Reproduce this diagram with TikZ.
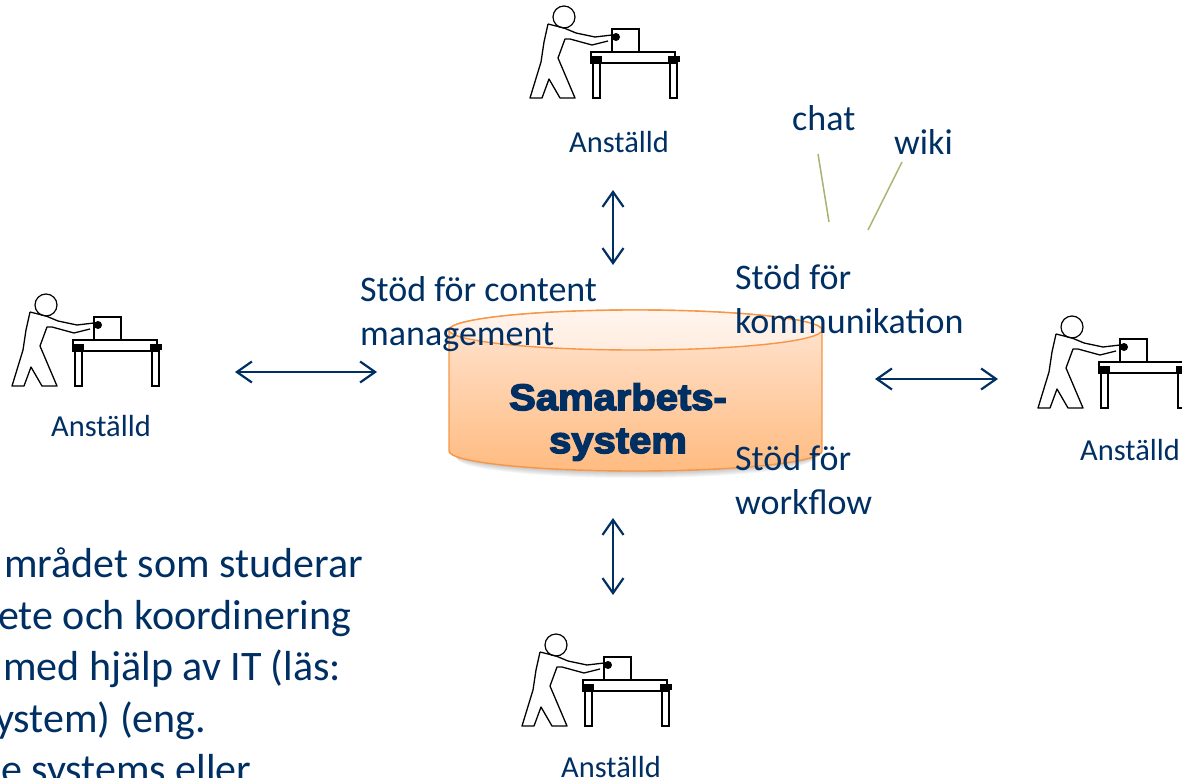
\documentclass[tikz,border=0pt]{standalone}
\usepackage{fontspec}
\setmainfont{Carlito}
\newfontfamily\heavyfont[FakeBold=4,FakeStretch=1.08]{Liberation Sans Bold}
\usetikzlibrary{arrows.meta}
\definecolor{navytext}{HTML}{002F63}
\definecolor{cylline}{HTML}{F79646}
\definecolor{cyltop}{HTML}{FFE6D5}
\definecolor{cylbot}{HTML}{FFBB80}
\definecolor{stemline}{HTML}{A9B26F}
\tikzset{
  lbl/.style={text=navytext,font=\fontsize{36}{36}\selectfont,anchor=base west,inner sep=0pt},
  lbltwo/.style={lbl,align=left,font=\fontsize{36}{44}\selectfont},
  bigtxt/.style={lbl,font=\fontsize{42}{42}\selectfont},
  emp/.style={text=navytext,font=\fontsize{30.5}{31}\selectfont,anchor=base,inner sep=0pt},
  dblarrow/.style={navytext,line width=2.2pt,{Straight Barb[length=15pt,width=21pt]}-{Straight Barb[length=15pt,width=21pt]}},
  stem/.style={stemline,line width=1.5pt},
  worker/.pic={
    \draw[line width=1.2pt] (44,17) circle (11);
    \draw[line width=1.3pt,line join=round]
      (28,24) -- (24,42) -- (21,62) -- (10,98) -- (22,98) -- (29,79) -- (40,98) -- (55,98)
      -- (38,58) -- (45,39) -- (50,39) -- (72,45) -- (88,41);
    \draw[line width=1.3pt,line join=round] (28,24) -- (44,28) -- (56,33) -- (75,37) -- (92,35);
    \fill (96,37) circle (4);
    \draw[line width=1.1pt] (92,52) -- (92,29) -- (119,29) -- (119,52);
    \draw[line width=1.1pt] (71,52) rectangle (155,63);
    \draw[line width=1.1pt] (73,60) rectangle (80,98);
    \draw[line width=1.1pt] (150,60) rectangle (157,98);
    \fill (71,56) rectangle (82,62);
    \fill (148,56) rectangle (160,62);
  }
}
\begin{document}
\begin{tikzpicture}[x=1pt,y=-1pt]
\useasboundingbox (0,0) rectangle (1182,778);

% the four employees
\pic at (520,0) {worker};
\pic at (2,288) {worker};
\pic at (1028,310) {worker};
\pic at (512,628) {worker};
\node[emp] (empTop) at (619,153) {Anställd};
\node[emp] (empLeft) at (101,436) {Anställd};
\node[emp] (empRight) at (1130,460) {Anställd};
\node[emp] (empBottom) at (611,777) {Anställd};

% shadow and cylinder
\foreach \i in {1,...,9}
  \fill[black,opacity=0.035] (635.5,449+\i) ellipse (186-\i*0.8 and 20);
\path[draw=cylline,line width=1.4pt,top color=cyltop,bottom color=cylbot]
  (449,330) -- (449,451) arc[x radius=186.5,y radius=20,start angle=180,end angle=0] -- (822,330)
  arc[x radius=186.5,y radius=20,start angle=0,end angle=-180] -- cycle;
\path[draw=cylline,line width=1.4pt,top color=cyltop!40!white,bottom color=cyltop!75!white]
  (635.5,330) ellipse (186.5 and 20);
\node[text=navytext,font=\fontsize{37}{43}\selectfont\heavyfont,align=center,inner sep=0pt] (system) at (618,422) {Samarbets-\\system};

% labels around the cylinder
\node[lbltwo] (content) at (360,345) {Stöd för content\\management};
\node[lbltwo] (komm) at (735,333) {Stöd för\\kommunikation};
\node[lbltwo] (workflow) at (735,514) {Stöd för\\workflow};
\node[lbl] (chat) at (792,131) {chat};
\node[lbl] (wiki) at (894,155) {wiki};

% arrows
\coordinate (arrLeftA) at (235,372);
\coordinate (arrLeftB) at (377,372);
\coordinate (arrRightA) at (875,379);
\coordinate (arrRightB) at (998,379);
\coordinate (arrTopA) at (613,190);
\coordinate (arrTopB) at (613,265);
\coordinate (arrBotA) at (613,518);
\coordinate (arrBotB) at (613,595);
\draw[dblarrow] (arrLeftA) -- (arrLeftB);
\draw[dblarrow] (arrRightA) -- (arrRightB);
\draw[dblarrow] (arrTopA) -- (arrTopB);
\draw[dblarrow] (arrBotA) -- (arrBotB);

% lines to chat and wiki
\coordinate (chatEnd) at (829,222);
\coordinate (wikiEnd) at (868,230);
\coordinate (chatTop) at (818,154);
\coordinate (wikiTop) at (902,162);
\draw[stem] (chatTop) -- (chatEnd);
\draw[stem] (wikiTop) -- (wikiEnd);

% text cut off by the slide edge
\foreach \xpos/\ypos/\txt [count=\n] in {4/577/mrådet som studerar,-2/629/ete och koordinering,3/680/med hjälp av IT (läs:,-5/732/{ystem) (eng.},1/783/e systems eller}
  \node[bigtxt] (body\n) at (\xpos,\ypos) {\txt};
\end{tikzpicture}
\end{document}
